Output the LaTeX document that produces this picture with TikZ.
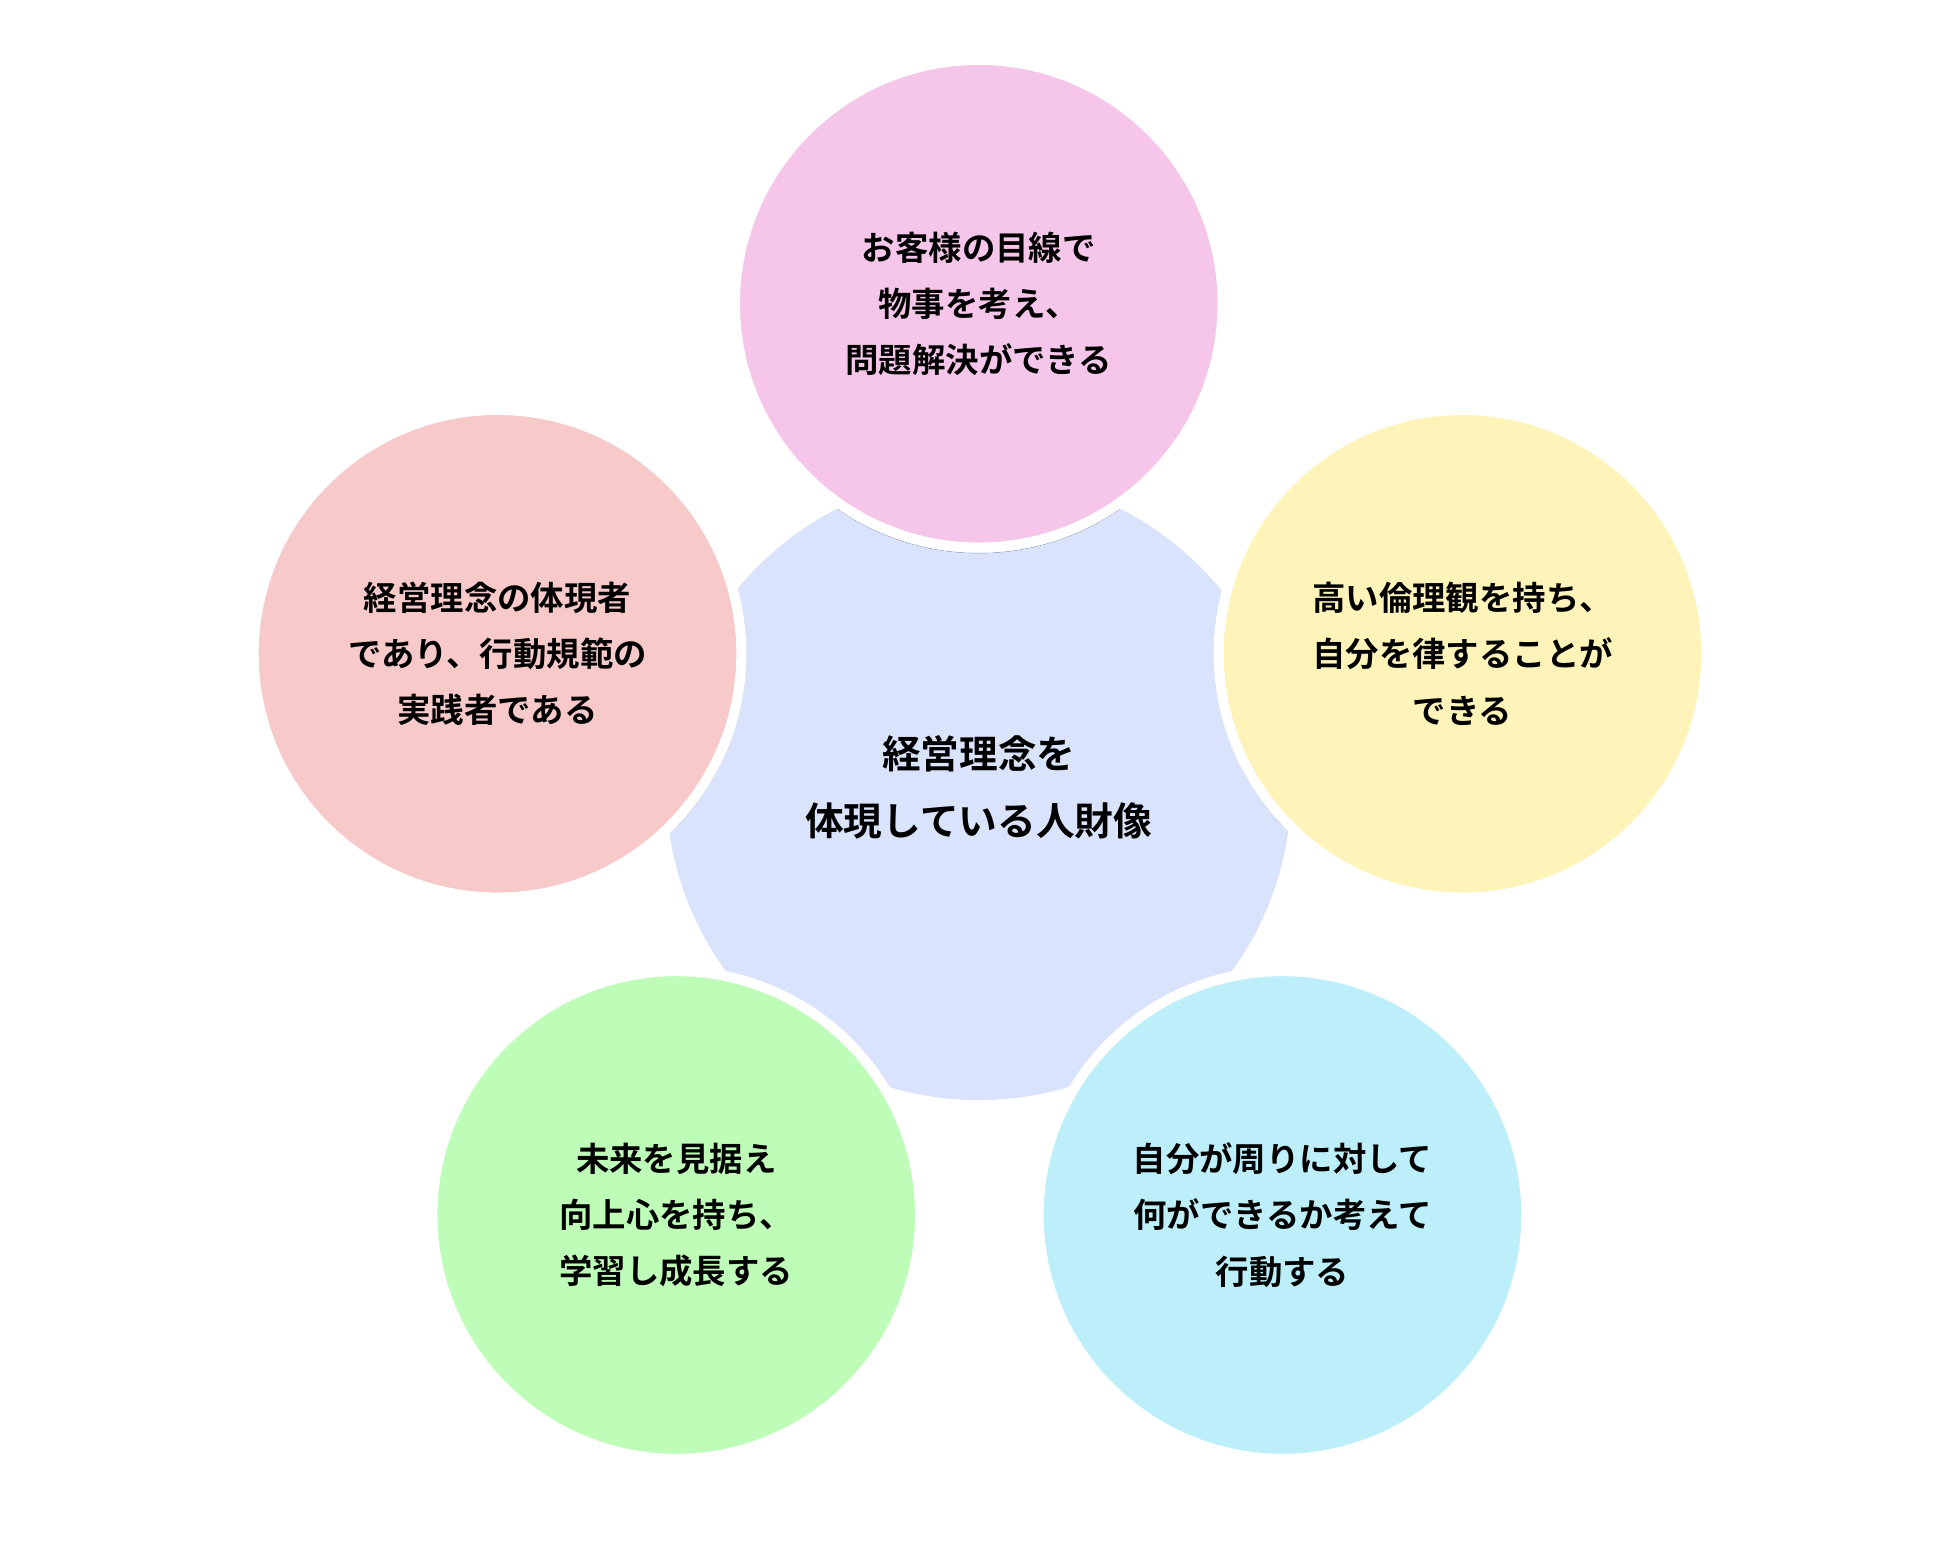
\documentclass[tikz,border=0pt]{standalone}
\usepackage{fontspec}
\setmainfont{Noto Sans CJK JP}[BoldFont={Noto Sans CJK JP Bold}]
\usetikzlibrary{shadows.blur}
\definecolor{coreblue}{HTML}{D9E3FC}
\definecolor{petalpink}{HTML}{F5C6EA}
\definecolor{petalred}{HTML}{F7C9C9}
\definecolor{petalyellow}{HTML}{FEF3B9}
\definecolor{petalgreen}{HTML}{BEFDB7}
\definecolor{petalcyan}{HTML}{BDEFFB}

\tikzset{
  petal/.style={circle, minimum size=9.75cm, draw=white, line width=0.2cm,
    blur shadow={shadow blur steps=8, shadow xshift=0pt, shadow yshift=-1pt, shadow opacity=12},
    align=center, font=\bfseries\fontsize{19}{32}\selectfont},
  core/.style={circle, minimum size=12.5cm, fill=coreblue, align=center,
    font=\bfseries\fontsize{22}{38}\selectfont}
}

\begin{document}
\begin{tikzpicture}[x=0.025cm, y=-0.025cm]
\useasboundingbox (0,0) rectangle (1552,1254);
%\draw[help lines] (0,0) grid (1552,1254);
\node[core] (core) at (783,630) {経営理念を\\体現している人財像};
\node[petal, fill=petalpink] (top) at (783,243) {お客様の目線で\\物事を考え、\\問題解決ができる};
\node[petal, fill=petalred] (left) at (398,523) {経営理念の体現者\\であり、行動規範の\\実践者である};
\node[petal, fill=petalyellow] (right) at (1170,523) {高い倫理観を持ち、\\自分を律することが\\できる};
\node[petal, fill=petalgreen] (lowleft) at (541,972) {未来を見据え\\向上心を持ち、\\学習し成長する};
\node[petal, fill=petalcyan] (lowright) at (1026,972) {自分が周りに対して\\何ができるか考えて\\行動する};
\end{tikzpicture}
\end{document}
